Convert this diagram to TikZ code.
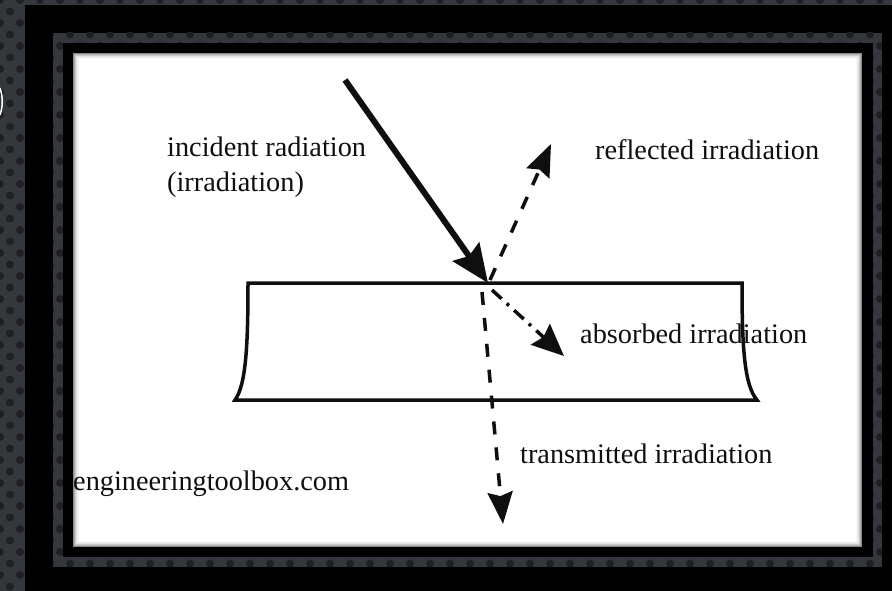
\documentclass[tikz,border=0pt]{standalone}
\usepackage{fontspec}
\setmainfont{Liberation Serif}
\usetikzlibrary{arrows.meta}
\definecolor{slate}{RGB}{52,55,60}
\definecolor{slatedot}{RGB}{30,32,35}
\definecolor{ink}{RGB}{15,15,15}

\begin{document}
\begin{tikzpicture}[x=1bp,y=-1bp,
  lbl/.style={anchor=base west, inner sep=0pt, text=ink,
              font=\fontsize{28.3bp}{35bp}\selectfont},
  solidray/.style={draw=ink, line width=6bp,
              -{Stealth[length=38bp,width=32bp,inset=5bp]}},
  dashray/.style={draw=ink, line width=3.5bp, dash pattern=on 13bp off 13bp,
              -{Stealth[length=32bp,width=25bp,inset=4bp]}},
  dotray/.style={draw=ink, line width=3.5bp,
              dash pattern=on 13bp off 7bp on 3bp off 7bp,
              -{Stealth[length=32bp,width=28bp,inset=4bp]}},
  slab/.style={draw=ink, line width=3.5bp, line join=miter}]

\useasboundingbox (0,0) rectangle (892,591);

% dotted slate backdrop
\fill[slate] (0,0) rectangle (892,591);
\foreach \i in {0,...,45}
  \foreach \j in {0,...,52}
    \fill[slatedot] ({\i*20+mod(\j,2)*10},{\j*11.5}) circle (4);

% outer black frame
\fill[black] (25,5) rectangle (900,600);

% thin dotted band
\fill[slate] (53,33) rectangle (882,567);
\begin{scope}
  \clip (53,33) rectangle (882,567);
  \foreach \i in {2,...,44}
    \foreach \j in {2,...,50}
      \fill[slatedot] ({\i*20+mod(\j,2)*10},{\j*11.5}) circle (4);
\end{scope}

% inner black frame and white panel
\fill[black] (63,43) rectangle (873,557);
\fill[white] (73,53) rectangle (862,547);
% soft inner shadow along the panel edge
\foreach \k/\o in {0.5/0.45,1.5/0.32,2.5/0.21,3.5/0.12,4.5/0.06,5.5/0.03}
  \draw[black, opacity=\o, line width=1bp]
    (73+\k,53+\k) rectangle (862-\k,547-\k);

% white glyph fragment at the left edge
\draw[white, line width=1.5bp] (0,88) .. controls (3,97) and (3,106) .. (0,115);

% slab of material
\coordinate (sbl) at (235,400);
\coordinate (stl) at (248,283);
\coordinate (str) at (742,283);
\coordinate (sbr) at (757,400);
\draw[slab] (sbl) .. controls (246,385) and (248,345) .. (stl) -- (str)
  .. controls (742,345) and (744,385) .. (sbr) -- cycle;

% rays
\coordinate (src) at (345,80);
\coordinate (hit) at (488,283);
\coordinate (reflS) at (490,280);
\coordinate (reflT) at (551,144);
\coordinate (absS) at (492,290);
\coordinate (absT) at (564,356);
\coordinate (trS) at (482,292);
\coordinate (trT) at (503,524);

\draw[solidray] (src) -- (hit);
\draw[dashray] (reflS) -- (reflT);
\draw[dotray] (absS) -- (absT);
\draw[dashray] (trS) -- (trT);

% labels
\node[lbl] (inc1) at (167,157) {incident radiation};
\node[lbl] (inc2) at (167,192) {(irradiation)};
\node[lbl] (refl) at (595,160) {reflected irradiation};
\node[lbl] (abs) at (580,343) {absorbed irradiation};
\node[lbl] (trans) at (520,463) {transmitted irradiation};
\node[lbl] (site) at (73,490) {engineeringtoolbox.com};
\end{tikzpicture}
\end{document}
